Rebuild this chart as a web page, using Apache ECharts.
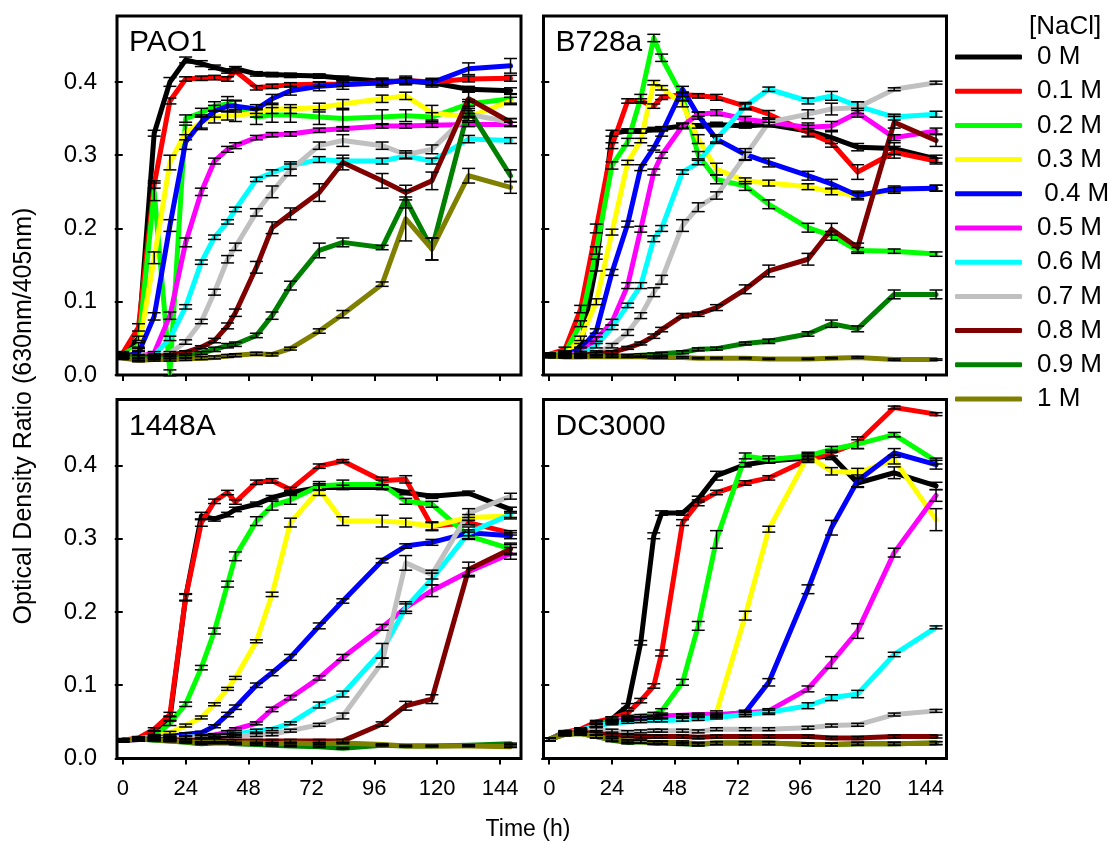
<!DOCTYPE html>
<html>
<head>
<meta charset="utf-8">
<script src="https://cdn.jsdelivr.net/npm/echarts@6/dist/echarts.min.js"></script>
<style>
html, body { margin: 0; padding: 0; background: #fff; }
#chart { width: 1115px; height: 843px; }
</style>
</head>
<body>
<div id="chart"></div>
<script>
// sampling times (h)
var hours = [0, 6, 12, 18, 24, 30, 35, 40, 43, 51, 57, 64, 75, 84, 99, 108, 118, 132, 148];
var saltNames = ['0 M', '0.1 M', '0.2 M', '0.3 M', ' 0.4 M', '0.5 M', '0.6 M', '0.7 M', '0.8 M', '0.9 M', '1 M'];
var saltColors = ['#000000', '#ff0000', '#00ff00', '#ffff00', '#0000ff', '#ff00ff', '#00ffff', '#c0c0c0', '#800000', '#008000', '#808000'];
var strains = ['PAO1', 'B728a', '1448A', 'DC3000'];
var xTicks = [0, 24, 48, 72, 96, 120, 144];
var yTicks = [0, 0.1, 0.2, 0.3, 0.4];

// mean OD ratio, one row per NaCl level
var pao1Mean = [
  [0.029, 0.05, 0.33, 0.40, 0.43, 0.425, 0.42, 0.415, 0.418, 0.411, 0.41, 0.409, 0.408, 0.405, 0.401, 0.401, 0.399, 0.39, 0.388],
  [0.03, 0.065, 0.26, 0.374, 0.404, 0.405, 0.406, 0.404, 0.415, 0.392, 0.394, 0.396, 0.397, 0.397, 0.399, 0.402, 0.4, 0.404, 0.405],
  [0.028, 0.04, 0.25, 0.003, 0.35, 0.358, 0.367, 0.37, 0.368, 0.352, 0.355, 0.355, 0.352, 0.35, 0.352, 0.354, 0.352, 0.37, 0.377],
  [0.025, 0.035, 0.16, 0.29, 0.331, 0.345, 0.352, 0.354, 0.354, 0.358, 0.363, 0.363, 0.365, 0.37, 0.377, 0.381, 0.358, 0.352, 0.374],
  [0.025, 0.03, 0.08, 0.204, 0.318, 0.345, 0.36, 0.367, 0.367, 0.363, 0.377, 0.388, 0.394, 0.396, 0.399, 0.402, 0.399, 0.418, 0.422],
  [0.025, 0.025, 0.03, 0.081, 0.181, 0.25, 0.292, 0.308, 0.313, 0.324, 0.328, 0.329, 0.334, 0.336, 0.34, 0.34, 0.341, 0.342, 0.342],
  [0.025, 0.025, 0.027, 0.05, 0.093, 0.154, 0.188, 0.209, 0.226, 0.267, 0.276, 0.286, 0.294, 0.292, 0.292, 0.299, 0.292, 0.322, 0.32],
  [0.025, 0.025, 0.025, 0.03, 0.045, 0.073, 0.113, 0.158, 0.175, 0.222, 0.25, 0.28, 0.313, 0.32, 0.313, 0.301, 0.308, 0.356, 0.345],
  [0.025, 0.025, 0.025, 0.027, 0.031, 0.038, 0.047, 0.067, 0.085, 0.147, 0.201, 0.22, 0.249, 0.29, 0.265, 0.249, 0.265, 0.377, 0.345],
  [0.027, 0.022, 0.023, 0.024, 0.025, 0.03, 0.035, 0.04, 0.042, 0.054, 0.081, 0.122, 0.17, 0.181, 0.174, 0.24, 0.172, 0.363, 0.272],
  [0.023, 0.02, 0.021, 0.021, 0.022, 0.023, 0.024, 0.026, 0.027, 0.029, 0.028, 0.036, 0.06, 0.083, 0.124, 0.213, 0.172, 0.272, 0.256]
];
var b728aMean = [
  [0.028, 0.03, 0.04, 0.15, 0.33, 0.333, 0.333, 0.335, 0.336, 0.34, 0.34, 0.342, 0.34, 0.342, 0.333, 0.324, 0.311, 0.309, 0.295],
  [0.028, 0.035, 0.09, 0.2, 0.313, 0.374, 0.374, 0.367, 0.379, 0.383, 0.381, 0.379, 0.367, 0.356, 0.331, 0.317, 0.277, 0.304, 0.292],
  [0.028, 0.03, 0.07, 0.17, 0.286, 0.318, 0.378, 0.46, 0.433, 0.38, 0.3, 0.267, 0.258, 0.233, 0.201, 0.19, 0.17, 0.169, 0.165],
  [0.026, 0.028, 0.05, 0.1, 0.195, 0.29, 0.32, 0.399, 0.392, 0.37, 0.322, 0.281, 0.265, 0.262, 0.257, 0.25, 0.245, 0.252, 0.255],
  [0.026, 0.028, 0.035, 0.06, 0.14, 0.206, 0.283, 0.31, 0.33, 0.39, 0.354, 0.322, 0.301, 0.29, 0.272, 0.261, 0.245, 0.254, 0.255],
  [0.026, 0.027, 0.03, 0.049, 0.072, 0.122, 0.199, 0.277, 0.3, 0.34, 0.356, 0.358, 0.349, 0.345, 0.338, 0.34, 0.358, 0.324, 0.333],
  [0.026, 0.026, 0.028, 0.04, 0.065, 0.095, 0.122, 0.186, 0.2, 0.277, 0.29, 0.322, 0.367, 0.39, 0.374, 0.381, 0.367, 0.352, 0.356],
  [0.026, 0.026, 0.027, 0.03, 0.04, 0.058, 0.081, 0.113, 0.13, 0.204, 0.229, 0.245, 0.299, 0.345, 0.356, 0.363, 0.365, 0.39, 0.399],
  [0.026, 0.026, 0.027, 0.029, 0.031, 0.037, 0.043, 0.053, 0.062, 0.081, 0.083, 0.092, 0.117, 0.142, 0.158, 0.199, 0.174, 0.345, 0.32],
  [0.026, 0.025, 0.025, 0.026, 0.026, 0.026, 0.027, 0.028, 0.029, 0.031, 0.035, 0.036, 0.043, 0.046, 0.056, 0.07, 0.063, 0.11, 0.11],
  [0.026, 0.025, 0.025, 0.025, 0.025, 0.025, 0.025, 0.024, 0.024, 0.024, 0.023, 0.023, 0.023, 0.022, 0.022, 0.023, 0.024, 0.021, 0.021]
];
var p1448aMean = [
  [0.025, 0.027, 0.035, 0.055, 0.22, 0.331, 0.327, 0.333, 0.34, 0.347, 0.356, 0.363, 0.37, 0.37, 0.37, 0.363, 0.358, 0.362, 0.34],
  [0.025, 0.028, 0.04, 0.06, 0.22, 0.322, 0.351, 0.363, 0.35, 0.377, 0.379, 0.367, 0.399, 0.406, 0.379, 0.381, 0.317, 0.322, 0.308],
  [0.025, 0.027, 0.03, 0.048, 0.074, 0.124, 0.174, 0.238, 0.276, 0.324, 0.345, 0.353, 0.372, 0.374, 0.374, 0.351, 0.347, 0.304, 0.286],
  [0.025, 0.027, 0.03, 0.035, 0.045, 0.056, 0.074, 0.095, 0.11, 0.16, 0.224, 0.322, 0.367, 0.324, 0.324, 0.322, 0.317, 0.329, 0.331],
  [0.025, 0.027, 0.028, 0.03, 0.033, 0.035, 0.044, 0.06, 0.07, 0.1, 0.117, 0.138, 0.181, 0.215, 0.27, 0.29, 0.295, 0.308, 0.304],
  [0.025, 0.026, 0.027, 0.028, 0.029, 0.03, 0.032, 0.036, 0.04, 0.048, 0.067, 0.083, 0.11, 0.138, 0.179, 0.206, 0.229, 0.255, 0.28],
  [0.025, 0.026, 0.027, 0.028, 0.029, 0.03, 0.031, 0.032, 0.033, 0.038, 0.04, 0.048, 0.073, 0.088, 0.147, 0.206, 0.245, 0.308, 0.333],
  [0.025, 0.026, 0.027, 0.028, 0.028, 0.029, 0.03, 0.031, 0.031, 0.032, 0.033, 0.038, 0.046, 0.058, 0.131, 0.267, 0.251, 0.335, 0.358],
  [0.025, 0.026, 0.026, 0.026, 0.025, 0.025, 0.025, 0.024, 0.024, 0.024, 0.024, 0.024, 0.024, 0.024, 0.047, 0.072, 0.081, 0.258, 0.286],
  [0.025, 0.027, 0.025, 0.024, 0.022, 0.02, 0.021, 0.021, 0.02, 0.019, 0.018, 0.017, 0.016, 0.014, 0.018, 0.017, 0.017, 0.018, 0.02],
  [0.025, 0.027, 0.026, 0.024, 0.023, 0.022, 0.022, 0.022, 0.021, 0.021, 0.02, 0.021, 0.02, 0.021, 0.019, 0.017, 0.017, 0.017, 0.016]
];
var dc3000Mean = [
  [0.026, 0.036, 0.038, 0.047, 0.054, 0.072, 0.158, 0.304, 0.335, 0.335, 0.354, 0.386, 0.401, 0.406, 0.41, 0.413, 0.376, 0.39, 0.372],
  [0.026, 0.036, 0.04, 0.05, 0.055, 0.062, 0.079, 0.099, 0.144, 0.322, 0.349, 0.363, 0.376, 0.383, 0.408, 0.417, 0.431, 0.479, 0.47],
  [0.026, 0.034, 0.038, 0.045, 0.052, 0.055, 0.058, 0.06, 0.065, 0.104, 0.181, 0.299, 0.413, 0.408, 0.413, 0.422, 0.429, 0.442, 0.406],
  [0.026, 0.034, 0.038, 0.045, 0.05, 0.053, 0.055, 0.056, 0.057, 0.058, 0.059, 0.063, 0.195, 0.313, 0.413, 0.392, 0.39, 0.408, 0.326],
  [0.026, 0.034, 0.038, 0.045, 0.05, 0.053, 0.055, 0.056, 0.057, 0.058, 0.058, 0.058, 0.063, 0.104, 0.231, 0.315, 0.379, 0.417, 0.401],
  [0.026, 0.034, 0.038, 0.045, 0.05, 0.053, 0.055, 0.057, 0.058, 0.059, 0.06, 0.06, 0.062, 0.065, 0.095, 0.131, 0.174, 0.281, 0.359],
  [0.026, 0.034, 0.038, 0.045, 0.048, 0.05, 0.051, 0.052, 0.052, 0.053, 0.054, 0.056, 0.06, 0.063, 0.072, 0.083, 0.088, 0.142, 0.179],
  [0.026, 0.034, 0.038, 0.04, 0.038, 0.036, 0.037, 0.038, 0.038, 0.038, 0.037, 0.04, 0.04, 0.04, 0.042, 0.045, 0.046, 0.06, 0.065],
  [0.026, 0.034, 0.036, 0.034, 0.032, 0.031, 0.03, 0.03, 0.03, 0.03, 0.029, 0.03, 0.03, 0.03, 0.03, 0.028, 0.028, 0.03, 0.03],
  [0.026, 0.033, 0.034, 0.03, 0.025, 0.022, 0.023, 0.021, 0.021, 0.02, 0.019, 0.021, 0.021, 0.021, 0.019, 0.019, 0.02, 0.02, 0.021],
  [0.026, 0.033, 0.034, 0.03, 0.026, 0.024, 0.023, 0.022, 0.022, 0.022, 0.02, 0.021, 0.021, 0.021, 0.019, 0.019, 0.02, 0.02, 0.021]
];

// error bar half-lengths, in 0.001 OD units
var pao1Err = [
  [2, 3, 4, 6, 4, 4, 3, 3, 3, 3, 3, 3, 3, 3, 4, 4, 4, 4, 4],
  [2, 5, 5, 4, 3, 3, 3, 3, 3, 3, 3, 3, 3, 3, 4, 4, 4, 4, 4],
  [2, 4, 12, 4, 5, 6, 6, 10, 6, 10, 10, 10, 10, 12, 10, 8, 6, 6, 6],
  [2, 3, 8, 10, 10, 8, 8, 6, 8, 6, 6, 6, 6, 6, 5, 5, 10, 5, 5],
  [2, 3, 5, 8, 10, 10, 8, 8, 8, 6, 6, 6, 6, 6, 6, 6, 6, 8, 10],
  [2, 2, 2, 5, 6, 5, 4, 4, 4, 3, 3, 3, 3, 3, 3, 3, 3, 3, 3],
  [2, 2, 2, 3, 3, 3, 3, 3, 3, 3, 4, 5, 4, 4, 4, 4, 4, 5, 4],
  [2, 2, 2, 2, 3, 3, 4, 5, 5, 5, 8, 8, 5, 8, 5, 5, 6, 5, 5],
  [2, 2, 2, 2, 2, 2, 3, 4, 5, 8, 8, 8, 12, 10, 10, 10, 12, 10, 5],
  [2, 2, 2, 2, 2, 2, 3, 3, 3, 3, 5, 6, 10, 6, 3, 12, 15, 10, 8],
  [2, 2, 2, 2, 2, 2, 2, 2, 2, 2, 2, 2, 3, 5, 3, 30, 15, 10, 8]
];
var b728aErr = [
  [2, 2, 3, 8, 4, 3, 3, 3, 3, 3, 3, 3, 3, 3, 8, 8, 5, 8, 5],
  [2, 3, 5, 6, 4, 3, 3, 3, 3, 3, 3, 4, 5, 5, 5, 6, 10, 8, 4],
  [2, 3, 4, 5, 5, 5, 5, 5, 5, 5, 5, 6, 6, 6, 6, 6, 4, 3, 3],
  [2, 3, 3, 4, 4, 3, 3, 3, 3, 4, 6, 8, 4, 4, 4, 4, 4, 4, 4],
  [2, 3, 3, 3, 4, 4, 4, 3, 4, 4, 5, 6, 8, 6, 6, 6, 6, 4, 4],
  [2, 2, 2, 3, 4, 4, 4, 4, 4, 4, 3, 4, 4, 4, 6, 6, 6, 4, 4],
  [2, 2, 2, 3, 3, 3, 4, 4, 4, 3, 3, 4, 3, 3, 4, 6, 6, 4, 4],
  [2, 2, 2, 3, 3, 4, 4, 6, 6, 8, 6, 5, 5, 6, 6, 8, 8, 2, 2],
  [2, 2, 2, 2, 2, 2, 2, 3, 3, 3, 3, 4, 6, 8, 8, 8, 6, 8, 8],
  [2, 2, 2, 2, 2, 2, 2, 2, 2, 2, 2, 2, 2, 3, 3, 5, 4, 6, 6],
  [1, 1, 1, 1, 1, 1, 1, 1, 1, 1, 1, 1, 1, 1, 1, 1, 1, 1, 1]
];
var p1448aErr = [
  [2, 2, 2, 3, 4, 5, 3, 3, 3, 3, 3, 3, 3, 3, 3, 3, 3, 3, 3],
  [2, 2, 2, 3, 5, 5, 3, 3, 3, 3, 3, 3, 3, 2, 5, 5, 5, 3, 3],
  [2, 2, 2, 3, 3, 3, 4, 4, 6, 6, 6, 6, 6, 6, 6, 4, 4, 5, 6],
  [2, 2, 2, 2, 2, 2, 2, 2, 2, 2, 3, 6, 8, 6, 8, 6, 6, 4, 4],
  [2, 2, 2, 2, 2, 2, 2, 3, 3, 3, 4, 4, 4, 3, 3, 3, 4, 4, 4],
  [2, 2, 2, 2, 2, 2, 2, 2, 2, 2, 3, 3, 3, 4, 4, 5, 8, 5, 8],
  [2, 2, 2, 2, 2, 2, 2, 2, 2, 2, 2, 2, 4, 4, 10, 8, 8, 8, 4],
  [2, 2, 2, 2, 2, 2, 2, 2, 2, 2, 2, 2, 2, 4, 6, 10, 6, 6, 4],
  [2, 2, 2, 2, 2, 2, 2, 2, 2, 2, 2, 2, 2, 2, 3, 6, 6, 10, 8],
  [1, 1, 1, 1, 1, 1, 1, 1, 1, 1, 1, 1, 1, 1, 1, 1, 1, 1, 1],
  [1, 1, 1, 1, 1, 1, 1, 1, 1, 1, 1, 1, 1, 1, 1, 1, 1, 1, 1]
];
var dc3000Err = [
  [2, 2, 2, 3, 3, 3, 3, 4, 3, 3, 4, 6, 3, 3, 4, 5, 6, 8, 5],
  [2, 2, 2, 2, 2, 3, 3, 3, 4, 4, 4, 3, 3, 3, 4, 4, 8, 2, 2],
  [2, 2, 2, 2, 2, 2, 2, 3, 3, 4, 6, 12, 4, 5, 3, 4, 6, 3, 4],
  [2, 2, 2, 2, 2, 2, 2, 2, 2, 2, 2, 2, 6, 4, 5, 5, 6, 6, 15],
  [2, 2, 2, 2, 2, 2, 2, 2, 2, 2, 2, 2, 3, 5, 6, 10, 8, 6, 6],
  [2, 2, 2, 2, 2, 2, 2, 2, 2, 2, 2, 2, 2, 3, 4, 8, 10, 6, 8],
  [2, 2, 2, 2, 2, 2, 2, 2, 2, 2, 2, 2, 3, 3, 4, 4, 5, 3, 2],
  [2, 2, 2, 2, 2, 2, 2, 2, 2, 2, 2, 2, 2, 2, 2, 2, 2, 2, 2],
  [2, 2, 2, 2, 2, 2, 2, 2, 2, 2, 2, 2, 2, 2, 2, 2, 2, 2, 2],
  [2, 2, 2, 2, 2, 2, 2, 2, 2, 2, 2, 2, 2, 2, 2, 2, 2, 2, 2],
  [2, 2, 2, 2, 2, 2, 2, 2, 2, 2, 2, 2, 2, 2, 2, 2, 2, 2, 2]
];

var panelMeans = [pao1Mean, b728aMean, p1448aMean, dc3000Mean];
var panelErrs = [pao1Err, b728aErr, p1448aErr, dc3000Err];

var FONT = 'Liberation Sans, Arial, sans-serif';

var grids = [
  { left: 117, top: 16, width: 404, height: 359 },
  { left: 543.5, top: 16, width: 403, height: 359 },
  { left: 117, top: 399.5, width: 404, height: 359 },
  { left: 543.5, top: 399.5, width: 403, height: 359 }
];

function renderErr(params, api) {
  var t = api.value(0), v = api.value(1), e = api.value(2);
  var hi = api.coord([t, v + e]);
  var lo = api.coord([t, v - e]);
  var w = 6.5;
  var st = { stroke: '#000', lineWidth: 1.5 };
  return {
    type: 'group',
    children: [
      { type: 'line', shape: { x1: hi[0], y1: hi[1], x2: lo[0], y2: lo[1] }, style: st },
      { type: 'line', shape: { x1: hi[0] - w, y1: hi[1], x2: hi[0] + w, y2: hi[1] }, style: st },
      { type: 'line', shape: { x1: lo[0] - w, y1: lo[1], x2: lo[0] + w, y2: lo[1] }, style: st }
    ]
  };
}

var xAxes = [], yAxes = [], series = [], graphics = [];
for (var p = 0; p < 4; p++) {
  var bottomRow = p >= 2, leftCol = p % 2 === 0;
  grids[p].show = true;
  grids[p].borderColor = '#000';
  grids[p].borderWidth = 3;
  grids[p].backgroundColor = 'transparent';
  xAxes.push({
    type: 'value', gridIndex: p, min: -2.2, max: 152,
    axisLine: { show: false },
    axisTick: { show: true, length: 6, customValues: xTicks, lineStyle: { color: '#000', width: 2 } },
    axisLabel: { show: bottomRow, customValues: xTicks, margin: 19, color: '#000', fontSize: 22, fontFamily: FONT },
    splitLine: { show: false }
  });
  yAxes.push({
    type: 'value', gridIndex: p, min: 0, max: 0.49,
    axisLine: { show: false },
    axisTick: { show: true, length: 8, customValues: yTicks, lineStyle: { color: '#000', width: 2 } },
    axisLabel: {
      show: leftCol, customValues: yTicks, margin: 20, color: '#000', fontSize: 24, fontFamily: FONT,
      formatter: function (v) { return v.toFixed(1); }
    },
    splitLine: { show: false }
  });
  var means = panelMeans[p];
  for (var s = 0; s < means.length; s++) {
    var pts = [];
    for (var i = 0; i < hours.length; i++) pts.push([hours[i], means[s][i]]);
    series.push({
      name: saltNames[s], type: 'line', xAxisIndex: p, yAxisIndex: p,
      data: pts, symbol: 'none', silent: true,
      color: saltColors[s],
      lineStyle: { width: 5, color: saltColors[s], cap: 'round', join: 'round' }
    });
  }
  var errPts = [];
  for (var s2 = 0; s2 < means.length; s2++) {
    for (var j = 0; j < hours.length; j++) {
      errPts.push([hours[j], means[s2][j], panelErrs[p][s2][j] / 1000]);
    }
  }
  series.push({
    type: 'custom', xAxisIndex: p, yAxisIndex: p, renderItem: renderErr,
    data: errPts, encode: { x: 0, y: 1 }, silent: true, z: 5
  });
  graphics.push({
    type: 'text', left: grids[p].left + 12, top: grids[p].top + 12,
    style: { text: strains[p], fontSize: 30, fontFamily: FONT, fill: '#000' }
  });
}

graphics.push({
  type: 'text', x: 24, y: 416, rotation: Math.PI / 2,
  style: { text: 'Optical Density Ratio (630nm/405nm)', x: 0, y: 0, align: 'center', verticalAlign: 'middle',
           fontSize: 25, fontFamily: FONT, fill: '#000' }
});
graphics.push({
  type: 'text', x: 528, y: 830,
  style: { text: 'Time (h)', x: 0, y: 0, align: 'center', verticalAlign: 'middle',
           fontSize: 23, fontFamily: FONT, fill: '#000' }
});
graphics.push({
  type: 'text', left: 1029, top: 14,
  style: { text: '[NaCl]', fontSize: 26, fontFamily: FONT, fill: '#000' }
});

var chart = echarts.init(document.getElementById('chart'), null, { renderer: 'canvas' });
chart.setOption({
  animation: false,
  backgroundColor: '#fff',
  grid: grids,
  xAxis: xAxes,
  yAxis: yAxes,
  legend: {
    data: saltNames, orient: 'vertical', left: 955, top: 44, padding: 0,
    itemWidth: 67, itemHeight: 5, itemGap: 8.2, icon: 'roundRect', selectedMode: false,
    textStyle: { fontSize: 26, lineHeight: 26, fontFamily: FONT, color: '#000', padding: [0, 0, 0, 10] }
  },
  graphic: graphics,
  series: series
});
</script>
</body>
</html>
